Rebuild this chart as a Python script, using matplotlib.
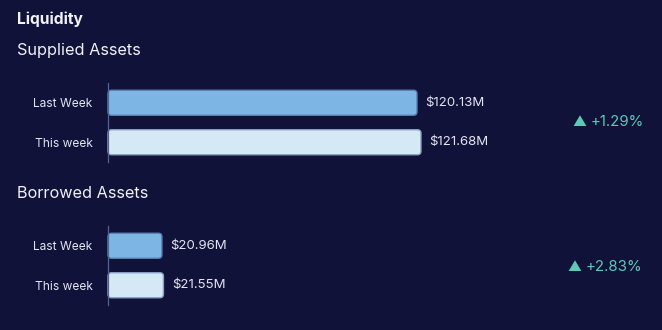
import matplotlib
matplotlib.use("Agg")
import matplotlib.pyplot as plt
from matplotlib.patches import FancyBboxPatch

# ---- data ----
title = "Liquidity"
sections = ["Supplied Assets", "Borrowed Assets"]
categories = ["Last Week", "This week"]
supplied = [120.13, 121.68]
borrowed = [20.96, 21.55]
supplied_change = "+1.29%"
borrowed_change = "+2.83%"

BG = "#10123a"
TXT = "#e4e5f0"
TEAL = "#5fc9b7"
BAR_COLORS = ["#7db6e4", "#d5e8f6"]
EDGE_COLORS = ["#5a82b2", "#8aa3c4"]

W, H = 662, 330
fig = plt.figure(figsize=(W / 100, H / 100), dpi=100, facecolor=BG)
plt.rcParams['font.family'] = ['Inter', 'DejaVu Sans']

PX_PER_UNIT = 2.572
AX_LEFT = 108
AX_W = 550


def fx(px):
    return px / W


def fy(py):
    return 1 - py / H


def draw_section(top_px, values, change, change_y_px, change_x_px):
    ax = fig.add_axes([fx(AX_LEFT), fy(top_px + 79), AX_W / W, 79 / H])
    ax.set_facecolor("none")
    ax.set_xlim(0, AX_W / PX_PER_UNIT)
    ax.set_ylim(1.5, -0.5)
    ypos = list(range(len(categories)))
    bars = ax.barh(ypos, values, height=25 / 39.5, color=BAR_COLORS)
    x_unit_px = PX_PER_UNIT
    y_unit_px = 39.5
    for b, fc, ec in zip(bars, BAR_COLORS, EDGE_COLORS):
        b.set_visible(False)
        x0, y0 = b.get_x(), b.get_y()
        w, h = b.get_width(), b.get_height()
        r = 3.5 / x_unit_px
        p = FancyBboxPatch((x0, y0), w, h,
                           boxstyle=f"round,pad=0,rounding_size={r}",
                           mutation_aspect=x_unit_px / y_unit_px,
                           facecolor=fc, edgecolor=ec, linewidth=1.0,
                           zorder=2, clip_on=False)
        ax.add_patch(p)
        ax.annotate(f"${b.get_width():.2f}M", (x0 + w, y0 + h / 2),
                    xytext=(6, 0), textcoords="offset points",
                    va="center", ha="left", color=TXT, fontsize=9.5)
    ax.set_yticks(ypos)
    ax.set_yticklabels(categories, color=TXT, fontsize=8.6)
    ax.tick_params(axis="y", length=0, pad=11)
    ax.set_xticks([])
    for s in ["top", "right", "bottom"]:
        ax.spines[s].set_visible(False)
    ax.spines["left"].set_color("#55648c")
    ax.spines["left"].set_linewidth(0.9)
    fig.text(fx(change_x_px), fy(change_y_px), "▲", color=TEAL,
             fontsize=10, va="center", ha="left")
    fig.text(fx(change_x_px + 19), fy(change_y_px), change, color=TEAL,
             fontsize=10.8, va="center", ha="left")


fig.text(fx(17), fy(19), title, color="#f2f2f8", fontsize=11.2,
         fontweight="bold", va="center", ha="left")
fig.text(fx(17), fy(50), sections[0], color="#f2f2f8", fontsize=11.7,
         va="center", ha="left")
fig.text(fx(17), fy(194), sections[1], color="#f2f2f8", fontsize=11.7,
         va="center", ha="left")

draw_section(83, supplied, supplied_change, 122, 572)
draw_section(226, borrowed, borrowed_change, 267, 567)

fig.savefig("out.png", dpi=100, facecolor=BG)
